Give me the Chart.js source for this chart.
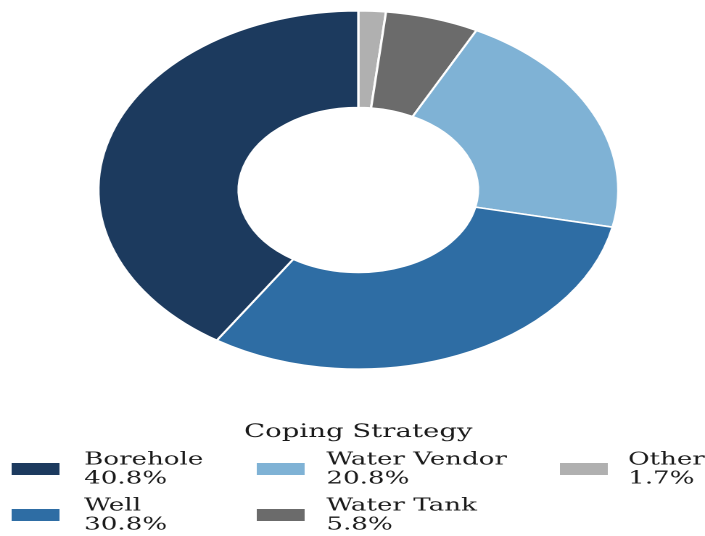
<!DOCTYPE html>
<html>
<head>
<meta charset="utf-8">
<script src="https://cdn.jsdelivr.net/npm/chart.js@4.4.0/dist/chart.umd.min.js"></script>
<style>
    body { margin: 0; background: #fff; }
    #wrap { width: 705px; height: 536px; overflow: hidden; position: relative; }
    #chart { transform-origin: 0 0; transform: scaleX(1.4506); }
</style>
</head>
<body>
<div id="wrap">
    <canvas id="chart" width="486" height="536"></canvas>
</div>
<script>
const categories = ["Borehole", "Well", "Water Vendor", "Water Tank", "Other"];
const shares = [40.8, 30.8, 20.8, 5.8, 1.7];
const COLORS = ["#1c3a5e", "#2e6da4", "#7fb2d5", "#6b6b6b", "#b0b0b0"];
const legendTitle = "Coping Strategy";

// the source drew counter-clockwise from the top, chart.js goes clockwise
const order = categories.map((_, i) => i).reverse();

// legend laid out in columns of two, like the picture
const legendBoxes = {
    colX: [8, 177, 386],
    textX: [58, 225, 433],
    rowY: [460, 506],
    lineGap: 19
};

const columnLegend = {
    id: "columnLegend",
    afterDraw(chart) {
        const ctx = chart.ctx;
        ctx.save();
        ctx.fillStyle = "#1a1a1a";
        ctx.textBaseline = "middle";
        ctx.font = "19px 'DejaVu Serif'";
        ctx.textAlign = "center";
        ctx.fillText(legendTitle, 247, 432);
        ctx.font = "18px 'DejaVu Serif'";
        ctx.textAlign = "left";
        categories.forEach((name, i) => {
            const col = Math.floor(i / 2);
            const row = i % 2;
            const y = legendBoxes.rowY[row];
            ctx.fillStyle = COLORS[i];
            ctx.fillRect(legendBoxes.colX[col], y + 3, 33, 12);
            ctx.fillStyle = "#1a1a1a";
            ctx.fillText(name, legendBoxes.textX[col], y);
            ctx.fillText(shares[i].toFixed(1) + "%", legendBoxes.textX[col], y + legendBoxes.lineGap);
        });
        ctx.restore();
    }
};

new Chart(document.getElementById("chart"), {
    type: "doughnut",
    data: {
        labels: order.map(i => categories[i]),
        datasets: [{
            data: order.map(i => shares[i]),
            backgroundColor: order.map(i => COLORS[i]),
            borderColor: "#ffffff",
            borderWidth: 1.6
        }]
    },
    options: {
        responsive: false,
        animation: false,
        devicePixelRatio: 2,
        cutout: "46%",
        rotation: 0,
        layout: {
            padding: { top: 10, bottom: 166, left: 67, right: 59 }
        },
        plugins: {
            legend: { display: false },
            tooltip: { enabled: false }
        }
    },
    plugins: [columnLegend]
});
</script>
</body>
</html>
